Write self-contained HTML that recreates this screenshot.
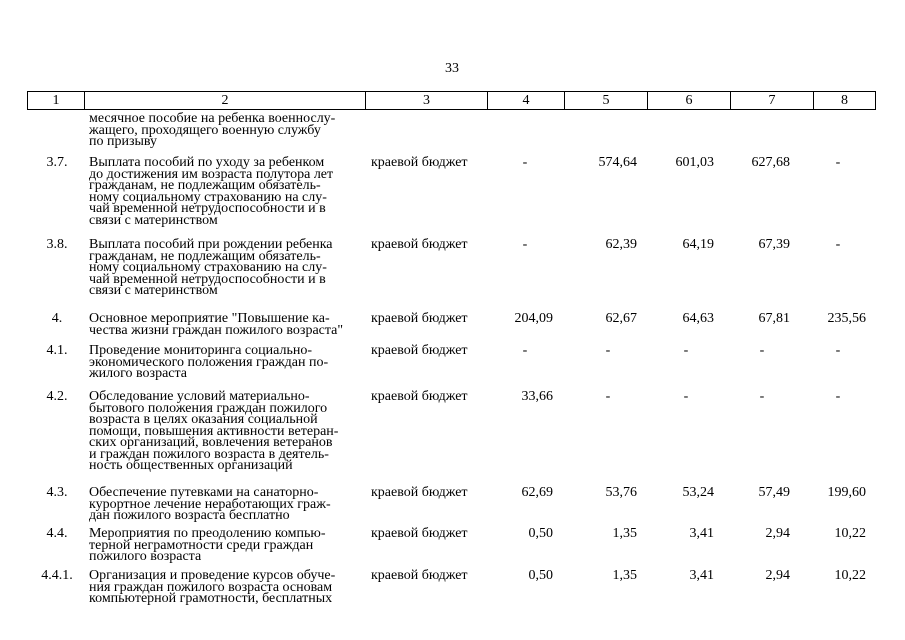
<!DOCTYPE html>
<html><head><meta charset="utf-8"><style>
body{margin:0;width:905px;height:640px;background:#fff;position:relative;overflow:hidden;font-family:"Liberation Serif",serif;font-size:14px;color:#000}
.a{position:absolute;line-height:11.5px;white-space:nowrap}
.n{position:absolute;width:60px;text-align:center;left:27px;line-height:11.5px}
.r{position:absolute;text-align:right;line-height:11.5px}
.c{position:absolute;text-align:center;line-height:11.5px;width:20px}
.h{position:absolute;top:91px;height:19px;border:1px solid #000;box-sizing:border-box;text-align:center;line-height:17px}
</style></head><body>
<div class="a" style="left:445px;top:63px">33</div>
<div style="position:absolute;left:27px;top:91px;width:849px;height:19px;border:1px solid #000;box-sizing:border-box"></div>
<div class="h" style="left:27px;width:58px">1</div>
<div class="h" style="left:84px;width:282px">2</div>
<div class="h" style="left:365px;width:123px">3</div>
<div class="h" style="left:487px;width:78px">4</div>
<div class="h" style="left:564px;width:84px">5</div>
<div class="h" style="left:647px;width:84px">6</div>
<div class="h" style="left:730px;width:84px">7</div>
<div class="h" style="left:813px;width:63px">8</div>

<div class="a" style="left:89px;top:113px">месячное пособие на ребенка военнослу-<br>жащего, проходящего военную службу<br>по призыву</div>

<div class="n" style="top:157px">3.7.</div>
<div class="a" style="left:89px;top:157px">Выплата пособий по уходу за ребенком<br>до достижения им возраста полутора лет<br>гражданам, не подлежащим обязатель-<br>ному социальному страхованию на слу-<br>чай временной нетрудоспособности и в<br>связи с материнством</div>

<div class="n" style="top:239px">3.8.</div>
<div class="a" style="left:89px;top:239px">Выплата пособий при рождении ребенка<br>гражданам, не подлежащим обязатель-<br>ному социальному страхованию на слу-<br>чай временной нетрудоспособности и в<br>связи с материнством</div>

<div class="n" style="top:313px">4.</div>
<div class="a" style="left:89px;top:313px">Основное мероприятие "Повышение ка-<br>чества жизни граждан пожилого возраста"</div>

<div class="n" style="top:345px">4.1.</div>
<div class="a" style="left:89px;top:345px">Проведение мониторинга социально-<br>экономического положения граждан по-<br>жилого возраста</div>

<div class="n" style="top:391px">4.2.</div>
<div class="a" style="left:89px;top:391px">Обследование условий материально-<br>бытового положения граждан пожилого<br>возраста в целях оказания социальной<br>помощи, повышения активности ветеран-<br>ских организаций, вовлечения ветеранов<br>и граждан пожилого возраста в деятель-<br>ность общественных организаций</div>

<div class="n" style="top:487px">4.3.</div>
<div class="a" style="left:89px;top:487px">Обеспечение путевками на санаторно-<br>курортное лечение неработающих граж-<br>дан пожилого возраста бесплатно</div>

<div class="n" style="top:528px">4.4.</div>
<div class="a" style="left:89px;top:528px">Мероприятия по преодолению компью-<br>терной неграмотности среди граждан<br>пожилого возраста</div>

<div class="n" style="top:570px">4.4.1.</div>
<div class="a" style="left:89px;top:570px">Организация и проведение курсов обуче-<br>ния граждан пожилого возраста основам<br>компьютерной грамотности, бесплатных</div>

<div class="a" style="left:371px;top:157px">краевой бюджет</div>
<div class="a" style="left:371px;top:239px">краевой бюджет</div>
<div class="a" style="left:371px;top:313px">краевой бюджет</div>
<div class="a" style="left:371px;top:345px">краевой бюджет</div>
<div class="a" style="left:371px;top:391px">краевой бюджет</div>
<div class="a" style="left:371px;top:487px">краевой бюджет</div>
<div class="a" style="left:371px;top:528px">краевой бюджет</div>
<div class="a" style="left:371px;top:570px">краевой бюджет</div>

<div class="c" style="left:515px;top:157px">-</div>
<div class="r" style="right:268px;top:157px">574,64</div>
<div class="r" style="right:191px;top:157px">601,03</div>
<div class="r" style="right:115px;top:157px">627,68</div>
<div class="c" style="left:828px;top:157px">-</div>

<div class="c" style="left:515px;top:239px">-</div>
<div class="r" style="right:268px;top:239px">62,39</div>
<div class="r" style="right:191px;top:239px">64,19</div>
<div class="r" style="right:115px;top:239px">67,39</div>
<div class="c" style="left:828px;top:239px">-</div>

<div class="r" style="right:352px;top:313px">204,09</div>
<div class="r" style="right:268px;top:313px">62,67</div>
<div class="r" style="right:191px;top:313px">64,63</div>
<div class="r" style="right:115px;top:313px">67,81</div>
<div class="r" style="right:39px;top:313px">235,56</div>

<div class="c" style="left:515px;top:345px">-</div>
<div class="c" style="left:598px;top:345px">-</div>
<div class="c" style="left:676px;top:345px">-</div>
<div class="c" style="left:752px;top:345px">-</div>
<div class="c" style="left:828px;top:345px">-</div>

<div class="r" style="right:352px;top:391px">33,66</div>
<div class="c" style="left:598px;top:391px">-</div>
<div class="c" style="left:676px;top:391px">-</div>
<div class="c" style="left:752px;top:391px">-</div>
<div class="c" style="left:828px;top:391px">-</div>

<div class="r" style="right:352px;top:487px">62,69</div>
<div class="r" style="right:268px;top:487px">53,76</div>
<div class="r" style="right:191px;top:487px">53,24</div>
<div class="r" style="right:115px;top:487px">57,49</div>
<div class="r" style="right:39px;top:487px">199,60</div>

<div class="r" style="right:352px;top:528px">0,50</div>
<div class="r" style="right:268px;top:528px">1,35</div>
<div class="r" style="right:191px;top:528px">3,41</div>
<div class="r" style="right:115px;top:528px">2,94</div>
<div class="r" style="right:39px;top:528px">10,22</div>

<div class="r" style="right:352px;top:570px">0,50</div>
<div class="r" style="right:268px;top:570px">1,35</div>
<div class="r" style="right:191px;top:570px">3,41</div>
<div class="r" style="right:115px;top:570px">2,94</div>
<div class="r" style="right:39px;top:570px">10,22</div>
</body></html>
